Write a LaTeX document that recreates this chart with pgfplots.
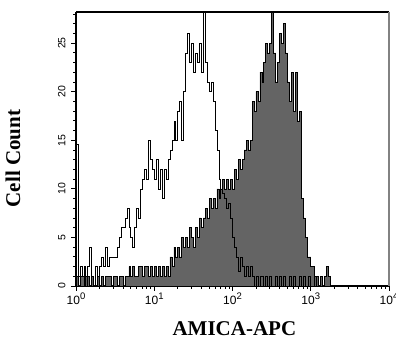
\documentclass[border=0pt]{standalone}
\usepackage{fontspec}
\setmainfont{Liberation Serif}
\setsansfont{Liberation Sans}
\usepackage{pgfplots}
\usepackage{pgfplotstable}
\pgfplotsset{compat=1.18}
\definecolor{histgray}{RGB}{100,100,100}
\definecolor{framegray}{RGB}{130,130,130}
\newcommand{\pw}[1]{\textsf{10\raisebox{0.42em}{\fontsize{9.5}{9.5}\selectfont #1}}}

\pgfplotstableread{
L O G
0.000 14.6 1
0.025 1 0
0.050 2 1
0.075 1 1
0.100 2 0
0.125 0 1
0.150 2 1
0.175 4 0
0.200 1 1
0.225 0 0
0.250 2 0
0.275 1 1
0.300 2 0
0.325 3 1
0.350 2 0
0.375 4 1
0.400 2 1
0.425 3 1
0.450 3 0
0.475 3 1
0.500 3 1
0.525 4 0
0.550 5 1
0.575 6 1
0.600 6 0
0.625 7 1
0.650 8 1
0.675 6 2
0.700 5 1
0.725 4 2
0.750 6 1
0.775 8 1
0.800 7 2
0.825 10 2
0.850 11 1
0.875 12 2
0.900 11 2
0.925 15 1
0.950 13 2
0.975 12 1
1.000 11 2
1.025 13 1
1.050 10 2
1.075 12 1
1.100 9 2
1.125 12 1
1.150 11 2
1.175 13 1
1.200 14 3
1.225 15 2
1.250 17 4
1.275 15 3
1.300 18 4
1.325 19 3
1.350 15 5
1.375 20 4
1.400 24 5
1.425 26 4
1.450 23 6
1.475 25 5
1.500 22 4
1.525 24 6
1.550 23 5
1.575 25 7
1.600 22 6
1.625 30 7
1.650 23 8
1.675 21 7
1.700 20 9
1.725 21 8
1.750 19 9
1.775 16 8
1.800 14 10
1.825 11 9
1.850 10 10
1.875 9.5 11
1.900 9 10
1.925 8 11
1.950 8.5 10
1.975 7 11
2.000 5 10
2.025 4 12
2.050 3 11
2.075 1.5 13
2.100 3 12
2.125 2 13
2.150 1 14
2.175 2 15
2.200 1 14
2.225 2 15
2.250 1 19
2.275 0 18
2.300 1 20
2.325 0 19
2.350 1 22
2.375 1 21
2.400 0 23
2.425 1 25
2.450 0 24
2.475 1 25
2.500 0 30
2.525 0 24
2.550 1 21
2.575 0 23
2.600 1 26
2.625 0 25
2.650 1 27
2.675 0 24
2.700 0 21
2.725 1 19
2.750 0 22
2.775 1 18
2.800 0 22
2.825 0 17
2.850 1 18
2.875 0 9
2.900 1 7
2.925 0 5
2.950 0 3
2.975 1 3
3.000 0 2
3.025 0 2
3.050 1 1
3.075 0 1
3.100 0 0
3.125 0 1
3.150 0 0
3.175 0 1
3.200 0 2
3.225 0 1
3.250 0 0
3.275 0 0
}\hist

\begin{document}
\begin{tikzpicture}
\useasboundingbox (0,0) rectangle (396pt,339pt);
\begin{axis}[
  at={(76pt,53pt)}, anchor=south west,
  scale only axis, width=313pt, height=274pt,
  xmode=log, xmin=1, xmax=10000, ymin=0, ymax=28.2,
  axis x line*=bottom, axis y line*=left,
  axis line style={-, line width=2pt, black},
  tick align=outside, major tick length=5pt, minor tick length=3pt,
  every tick/.style={black, line width=0.8pt},
  /pgf/number format/assume math mode=true,
  xtick={1,10,100,1000,10000},
  xticklabels={\pw{0},\pw{1},\pw{2},\pw{3},\pw{4}},
  minor xtick={2,3,4,5,6,7,8,9,20,30,40,50,60,70,80,90,200,300,400,500,600,700,800,900,2000,3000,4000,5000,6000,7000,8000,9000},
  ytick={0,5,10,15,20,25},
  minor ytick={1,2,3,4,6,7,8,9,11,12,13,14,16,17,18,19,21,22,23,24,26,27,28},
  xticklabel style={font=\sffamily\fontsize{12}{12}\selectfont, yshift=2pt},
  yticklabel style={rotate=90, anchor=south, font=\sffamily\fontsize{10.5}{10.5}\selectfont, yshift=2pt},
  xlabel={AMICA-APC},
  ylabel={Cell Count},
  xlabel style={at={(axis description cs:0.506,-0.157)}, anchor=center, font=\rmfamily\bfseries\fontsize{21}{21}\selectfont},
  ylabel style={at={(axis description cs:-0.201,0.465)}, anchor=center, font=\rmfamily\bfseries\fontsize{21}{21}\selectfont},
  after end axis/.code={
    \draw[black, line width=1.3pt] (rel axis cs:0,1) -- (rel axis cs:1,1);
    \draw[framegray, line width=1.2pt] (rel axis cs:1,1) -- (rel axis cs:1,0);
  },
]
\addplot[const plot, fill=histgray, draw=black, line width=0.6pt] table[x expr=10^\thisrow{L}, y=G] {\hist} \closedcycle;
\addplot[const plot, draw=black, line width=0.6pt] table[x expr=10^\thisrow{L}, y=O] {\hist};
\end{axis}
\end{tikzpicture}
\end{document}
